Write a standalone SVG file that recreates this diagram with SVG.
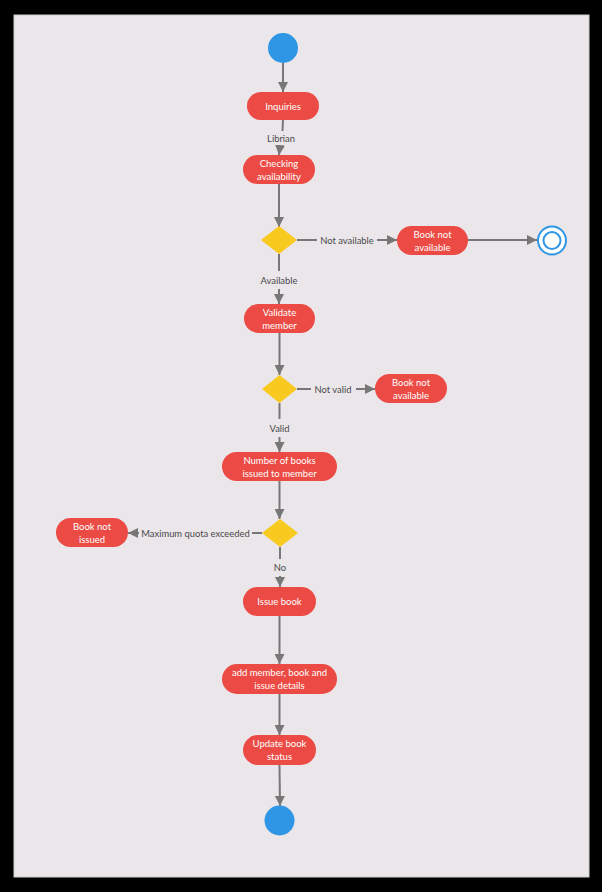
<svg xmlns="http://www.w3.org/2000/svg" width="602" height="892" viewBox="0 0 602 892">
  <style>
    .act { fill: #eb4b44; }
    .act-t { font-family: Lato, "Open Sans", sans-serif; font-size: 9.5px; fill: #ffffff; text-anchor: middle; }
    .dec { fill: #f8c91e; }
    .start { fill: #2e96e5; }
    .edge { stroke: #777777; stroke-width: 2; fill: none; }
    .lbl { font-family: Lato, "Open Sans", sans-serif; font-size: 9.4px; fill: #4a4a4a; text-anchor: middle; dominant-baseline: central; }
  </style>
  <defs>
    <marker id="arrow" viewBox="0 0 10 10" refX="10" refY="5" markerWidth="5" markerHeight="5" orient="auto" markerUnits="strokeWidth">
      <path d="M0,0 L10,5 L0,10 z" fill="#777777"/>
    </marker>
  </defs>

  <!-- frame and canvas -->
  <rect x="0" y="0" width="602" height="892" fill="#000000"/>
  <rect x="14" y="15" width="575" height="862" fill="#ebe6ea" stroke="#cfcfcf" stroke-width="1"/>

  <!-- connectors -->
  <g id="connectors">
    <path class="edge" d="M283,63 L283,92" marker-end="url(#arrow)"/>
    <path class="edge" d="M283,120 L282.5,131"/>
    <path class="edge" d="M280,146 L279,155" marker-end="url(#arrow)"/>
    <path class="edge" d="M279,184 L279,227" marker-end="url(#arrow)"/>
    <path class="edge" d="M297,240 L317,240"/>
    <path class="edge" d="M377,240 L397,240" marker-end="url(#arrow)"/>
    <path class="edge" d="M468,240 L537,240" marker-end="url(#arrow)"/>
    <path class="edge" d="M279,254 L279,271"/>
    <path class="edge" d="M279,289 L279,304" marker-end="url(#arrow)"/>
    <path class="edge" d="M279.5,333 L279.5,375" marker-end="url(#arrow)"/>
    <path class="edge" d="M297,389 L311,389"/>
    <path class="edge" d="M356,389 L375,389" marker-end="url(#arrow)"/>
    <path class="edge" d="M279.5,403 L279.5,419"/>
    <path class="edge" d="M279.5,437 L279.5,452" marker-end="url(#arrow)"/>
    <path class="edge" d="M279.5,481 L279.5,519" marker-end="url(#arrow)"/>
    <path class="edge" d="M262,533 L252,533"/>
    <path class="edge" d="M139,533 L128,533" marker-end="url(#arrow)"/>
    <path class="edge" d="M280,547 L280,559"/>
    <path class="edge" d="M280,576 L280,587" marker-end="url(#arrow)"/>
    <path class="edge" d="M279.5,616 L279.5,664" marker-end="url(#arrow)"/>
    <path class="edge" d="M279.5,694 L279.5,735" marker-end="url(#arrow)"/>
    <path class="edge" d="M279.5,765 L280,806" marker-end="url(#arrow)"/>

    <text class="lbl" x="281" y="138">Librian</text>
    <text class="lbl" x="347" y="240.5">Not available</text>
    <text class="lbl" x="279" y="280">Available</text>
    <text class="lbl" x="333" y="389.5">Not valid</text>
    <text class="lbl" x="279.5" y="428">Valid</text>
    <text class="lbl" x="195.5" y="533.5">Maximum quota exceeded</text>
    <text class="lbl" x="280" y="567">No</text>
  </g>

  <!-- nodes -->
  <g id="start">
    <circle class="start" cx="283" cy="48" r="15"/>
  </g>

  <g id="inquiries">
    <rect class="act" x="247" y="92" width="72" height="28" rx="14"/>
    <text class="act-t" x="283" y="109.5">Inquiries</text>
  </g>

  <g id="checking">
    <rect class="act" x="243" y="155" width="72" height="29" rx="14.5"/>
    <text class="act-t" x="279" y="166.5">Checking</text>
    <text class="act-t" x="279" y="179.5">availability</text>
  </g>

  <g id="decision-availability">
    <polygon class="dec" points="279,226 297,240 279,254 261,240"/>
  </g>

  <g id="book-not-available-1">
    <rect class="act" x="397" y="226" width="71" height="29" rx="14.5"/>
    <text class="act-t" x="432.5" y="237.5">Book not</text>
    <text class="act-t" x="432.5" y="250.5">available</text>
  </g>

  <g id="final">
    <circle cx="552" cy="240.5" r="14" fill="#ffffff" stroke="#2e96e5" stroke-width="2"/>
    <circle cx="552" cy="240.5" r="8.5" fill="#ffffff" stroke="#2e96e5" stroke-width="2"/>
  </g>

  <g id="validate">
    <rect class="act" x="244" y="304" width="71" height="29" rx="14.5"/>
    <text class="act-t" x="279.5" y="315.5">Validate</text>
    <text class="act-t" x="279.5" y="328.5">member</text>
  </g>

  <g id="decision-valid">
    <polygon class="dec" points="279.5,375 297,389 279.5,403 262,389"/>
  </g>

  <g id="book-not-available-2">
    <rect class="act" x="375" y="374" width="72" height="29" rx="14.5"/>
    <text class="act-t" x="411" y="385.5">Book not</text>
    <text class="act-t" x="411" y="398.5">available</text>
  </g>

  <g id="books-issued">
    <rect class="act" x="222" y="452" width="115" height="29" rx="14.5"/>
    <text class="act-t" x="279.5" y="463.5">Number of books</text>
    <text class="act-t" x="279.5" y="476.5">issued to member</text>
  </g>

  <g id="decision-quota">
    <polygon class="dec" points="280,519 298,533 280,547 262,533"/>
  </g>

  <g id="book-not-issued">
    <rect class="act" x="56" y="518" width="72" height="29" rx="14.5"/>
    <text class="act-t" x="92" y="529.5">Book not</text>
    <text class="act-t" x="92" y="542.5">issued</text>
  </g>

  <g id="issue-book">
    <rect class="act" x="243" y="587" width="73" height="29" rx="14.5"/>
    <text class="act-t" x="279.5" y="605">Issue book</text>
  </g>

  <g id="add-details">
    <rect class="act" x="222" y="664" width="115" height="30" rx="15"/>
    <text class="act-t" x="279.5" y="676">add member, book and</text>
    <text class="act-t" x="279.5" y="689">issue details</text>
  </g>

  <g id="update-status">
    <rect class="act" x="243" y="735" width="73" height="30" rx="15"/>
    <text class="act-t" x="279.5" y="747">Update book</text>
    <text class="act-t" x="279.5" y="760">status</text>
  </g>

  <g id="end">
    <circle class="start" cx="279.5" cy="820.5" r="15"/>
  </g>
</svg>
